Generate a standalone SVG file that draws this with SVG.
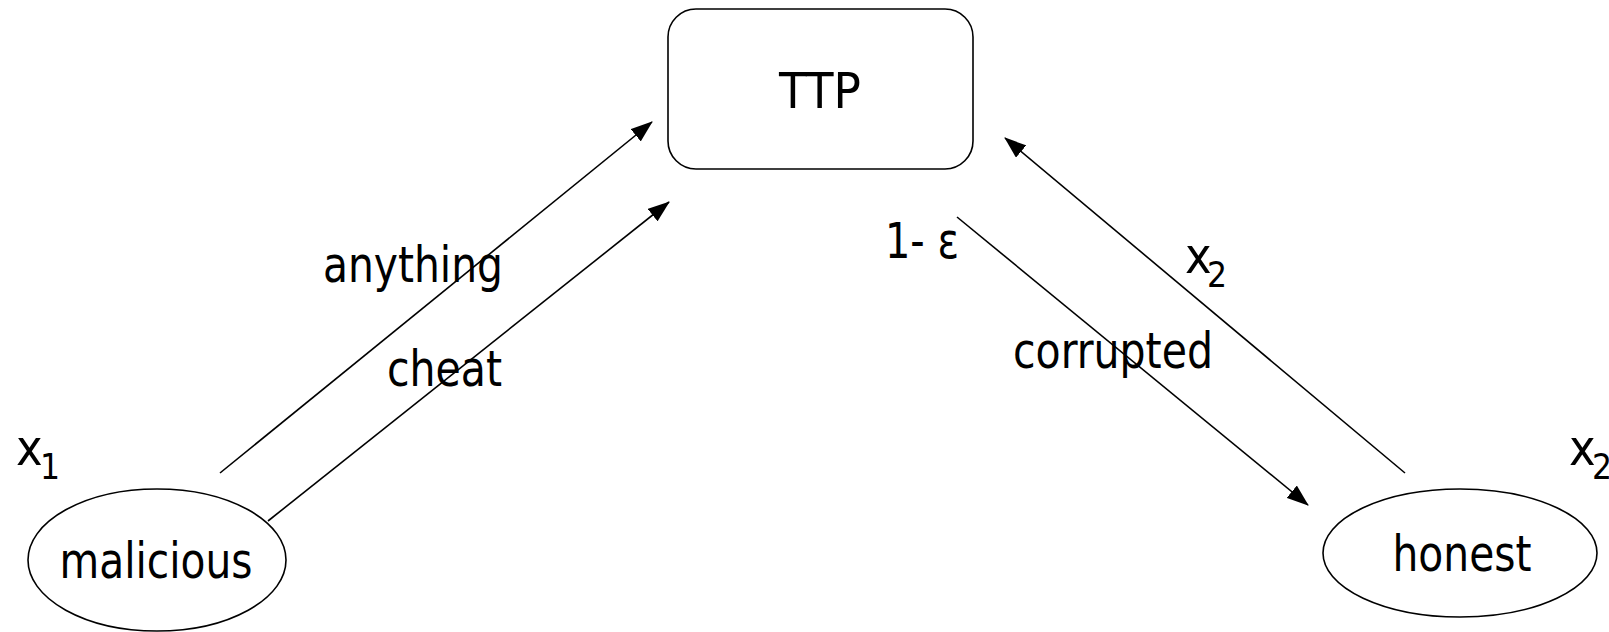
<svg xmlns="http://www.w3.org/2000/svg" width="1609" height="632" viewBox="0 0 1609 632">
<defs>
<style>
.t{font-family:"DejaVu Sans Condensed","DejaVu Sans",sans-serif;font-size:50px;fill:#000}
.s{font-size:35px}
.n{fill:#fff;stroke:#000;stroke-width:1.6}
.c{stroke:#000;stroke-width:1.6;fill:none;marker-end:url(#ah)}
</style>
<marker id="ah" viewBox="0 0 22 16" refX="21" refY="8" markerWidth="22" markerHeight="16" markerUnits="userSpaceOnUse" orient="auto">
<path d="M0,0 L22,8 L0,16 z" fill="#000"/>
</marker>
</defs>
<rect width="1609" height="632" fill="#fff"/>
<g id="connectors">
<line class="c" x1="220" y1="473" x2="652" y2="122"/>
<line class="c" x1="268" y1="521" x2="669" y2="202"/>
<line class="c" x1="1405" y1="473" x2="1005" y2="138"/>
<line class="c" x1="957" y1="217" x2="1308" y2="505"/>
</g>
<g id="ttp">
<rect class="n" x="668" y="9" width="305" height="160" rx="28" ry="28" stroke-width="2"/>
<text class="t" x="820" y="108" text-anchor="middle" textLength="82" lengthAdjust="spacingAndGlyphs">TTP</text>
</g>
<g id="malicious">
<ellipse class="n" cx="157" cy="560" rx="129" ry="71"/>
<text class="t" x="156" y="578" text-anchor="middle" textLength="193" lengthAdjust="spacingAndGlyphs">malicious</text>
</g>
<g id="honest">
<ellipse class="n" cx="1460" cy="553" rx="137" ry="64"/>
<text class="t" x="1462" y="571" text-anchor="middle" textLength="139" lengthAdjust="spacingAndGlyphs">honest</text>
</g>
<g id="labels">
<text class="t" x="323" y="282" textLength="180" lengthAdjust="spacingAndGlyphs">anything</text>
<text class="t" x="387" y="386" textLength="115" lengthAdjust="spacingAndGlyphs">cheat</text>
<text class="t" x="885" y="258" textLength="74" lengthAdjust="spacingAndGlyphs">1- ε</text>
<text class="t" x="1013" y="368" textLength="200" lengthAdjust="spacingAndGlyphs">corrupted</text>
<text class="t" x="1185" y="273">x<tspan class="s" x="1207" y="287">2</tspan></text>
<text class="t" x="16" y="465">x<tspan class="s" x="40" y="479">1</tspan></text>
<text class="t" x="1569" y="465">x<tspan class="s" x="1592" y="479">2</tspan></text>
</g>
</svg>
